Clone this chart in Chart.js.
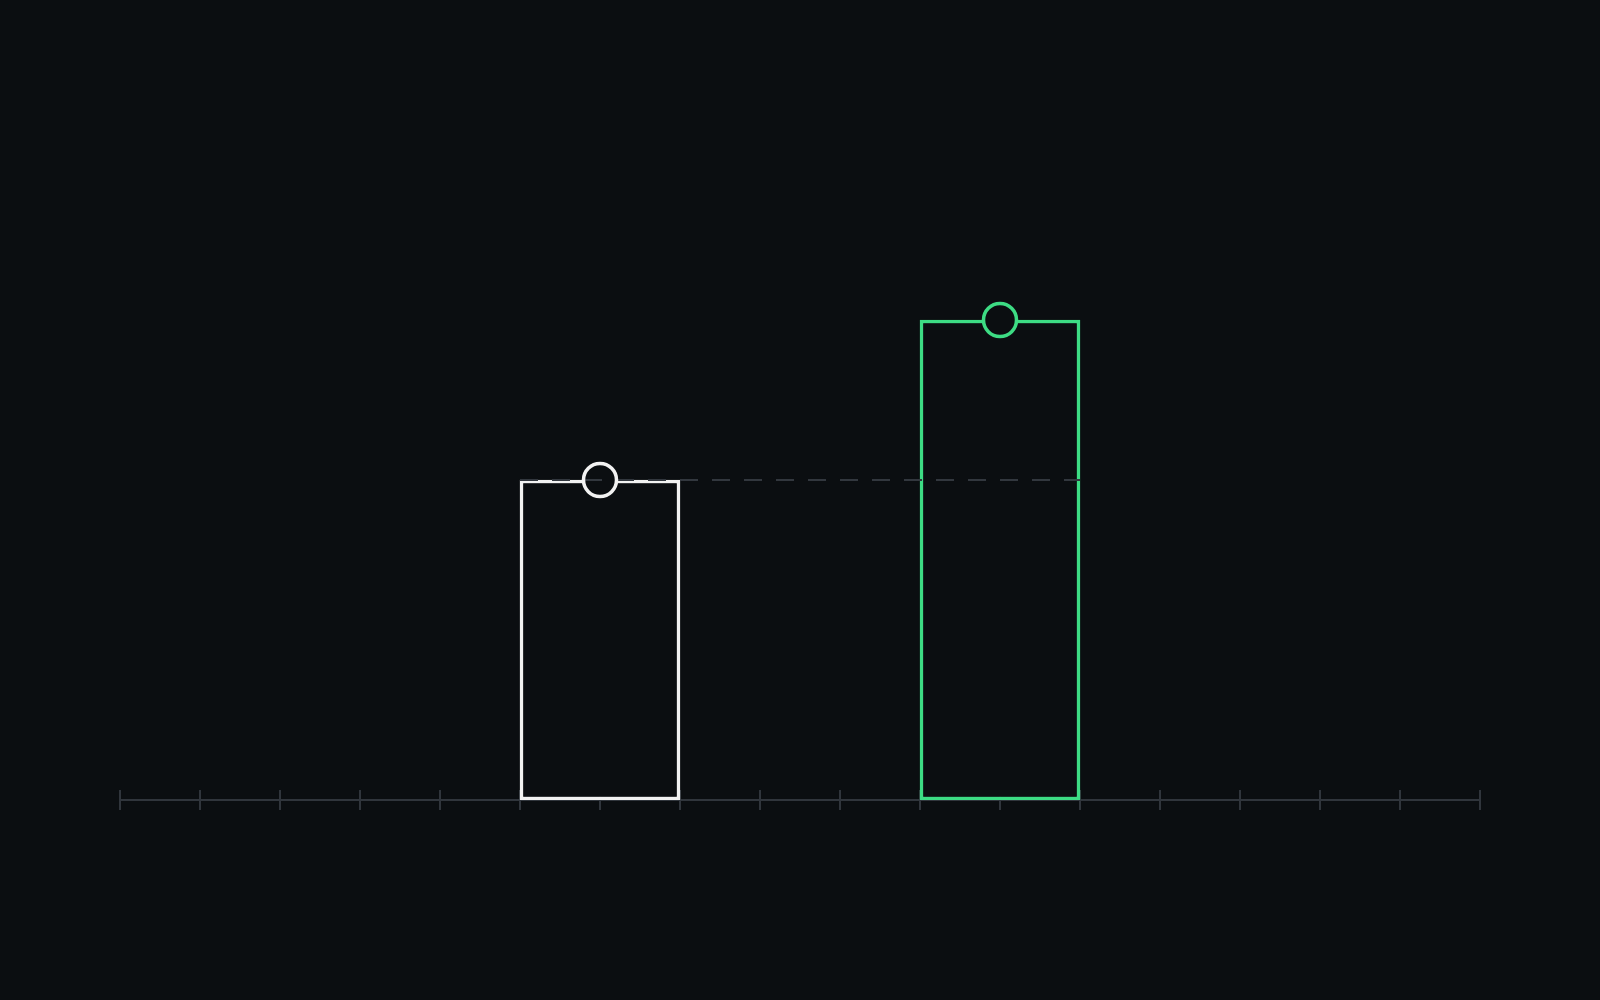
<!DOCTYPE html>
<html>
<head>
<meta charset="utf-8">
<script src="https://cdn.jsdelivr.net/npm/chart.js@4"></script>
<style>
  html, body { margin: 0; padding: 0; background: #0b0e11; }
  #wrap { width: 1600px; height: 1000px; }
</style>
</head>
<body>
<div id="wrap"><canvas id="chart" width="1600" height="1000"></canvas></div>
<script>
// data
var barPositions = [6, 11];
var barValues = [2, 3];
var barColors = ['#f2f2f2', '#3ddc84'];
var refLineX = [5, 12];
var refLineValue = 2;
var axisMin = 0;
var axisMax = 17;

var bg = '#0b0e11';

// axis line + ticks crossing it, drawn under the bars
var axisPlugin = {
  id: 'axisTicks',
  beforeDatasetsDraw: function (chart) {
    var ctx = chart.ctx;
    var x = chart.scales.x;
    var y = chart.scales.y;
    var base = y.getPixelForValue(0);
    ctx.save();
    ctx.strokeStyle = '#30353c';
    ctx.lineWidth = 2;
    ctx.beginPath();
    ctx.moveTo(x.getPixelForValue(axisMin), base);
    ctx.lineTo(x.getPixelForValue(axisMax), base);
    ctx.stroke();
    x.ticks.forEach(function (t) {
      var px = Math.round(x.getPixelForValue(t.value));
      ctx.beginPath();
      ctx.moveTo(px, base - 10);
      ctx.lineTo(px, base + 10);
      ctx.stroke();
    });
    ctx.restore();
  }
};

var barData = barPositions.map(function (p, i) { return { x: p, y: barValues[i] }; });

new Chart(document.getElementById('chart'), {
  type: 'bar',
  data: {
    datasets: [
      {
        type: 'line',
        data: barData,
        showLine: false,
        pointRadius: 16.5,
        pointBorderWidth: 3.5,
        pointBackgroundColor: 'rgba(0,0,0,0)',
        pointBorderColor: barColors,
        order: 0
      },
      {
        type: 'line',
        data: refLineX.map(function (v) { return { x: v, y: refLineValue }; }),
        borderColor: '#32373e',
        borderWidth: 2,
        borderDash: [18, 14],
        pointRadius: 0,
        order: 1
      },
      {
        type: 'line',
        data: barData,
        showLine: false,
        pointRadius: 16.5,
        pointBorderWidth: 0,
        pointBackgroundColor: bg,
        order: 2
      },
      {
        data: barData,
        backgroundColor: bg,
        borderColor: barColors,
        borderWidth: 3.5,
        borderSkipped: false,
        barThickness: 160,
        order: 3
      }
    ]
  },
  options: {
    responsive: false,
    animation: false,
    layout: { padding: { left: 120, right: 120, top: 80, bottom: 200 } },
    plugins: { legend: { display: false }, tooltip: { enabled: false } },
    scales: {
      x: {
        type: 'linear',
        display: false,
        offset: false,
        min: axisMin,
        max: axisMax,
        ticks: { stepSize: 1 }
      },
      y: {
        display: false,
        min: 0,
        max: 4.5
      }
    }
  },
  plugins: [axisPlugin]
});
</script>
</body>
</html>
